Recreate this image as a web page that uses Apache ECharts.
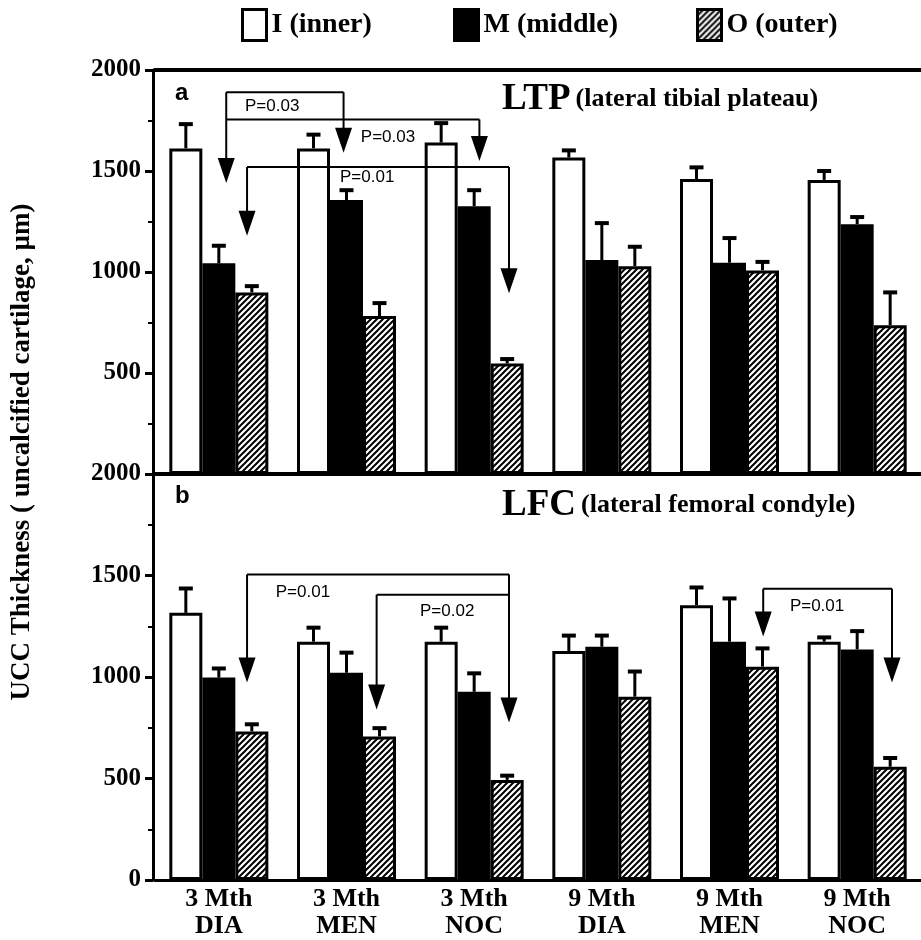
<!DOCTYPE html>
<html><head><meta charset="utf-8">
<script src="https://cdn.jsdelivr.net/npm/echarts@6/dist/echarts.min.js"></script>
<style>html,body{margin:0;padding:0;background:#fff}#c{width:921px;height:940px}</style>
</head><body><div id="c"></div>
<script>
// ---------- data ----------
const categories = ['3 Mth\nDIA', '3 Mth\nMEN', '3 Mth\nNOC', '9 Mth\nDIA', '9 Mth\nMEN', '9 Mth\nNOC'];
const seriesNames = ['I (inner)', 'M (middle)', 'O (outer)'];
const yMin = 0, yMax = 2000, yStep = 500;

// panel a: LTP (lateral tibial plateau)
const ltpInner = [1612, 1612, 1641, 1567, 1460, 1456];
const ltpInnerUpper = [1732, 1680, 1737, 1602, 1518, 1500];
const ltpMiddle = [1043, 1356, 1326, 1059, 1046, 1237];
const ltpMiddleUpper = [1130, 1405, 1405, 1242, 1168, 1272];
const ltpOuter = [899, 782, 547, 1029, 1008, 737];
const ltpOuterUpper = [930, 846, 569, 1125, 1050, 899];

// panel b: LFC (lateral femoral condyle)
const lfcInner = [1316, 1174, 1174, 1128, 1354, 1174];
const lfcInnerUpper = [1436, 1243, 1243, 1204, 1441, 1195];
const lfcMiddle = [997, 1021, 927, 1149, 1174, 1136];
const lfcMiddleUpper = [1042, 1120, 1018, 1204, 1387, 1226];
const lfcOuter = [732, 707, 493, 903, 1051, 558];
const lfcOuterUpper = [767, 748, 514, 1027, 1141, 601];

// significance brackets: x in category units, y in data units
const ltpBrackets = [
  {x1: 0.058, x2: 0.977, level: 1890, tip1: 1440, tip2: 1590, text: 'P=0.03', tx: 0.205, ty: 1822},
  {x1: 0.058, x2: 2.041, level: 1755, tip1: null, tip2: 1550, text: 'P=0.03', tx: 1.112, ty: 1668},
  {x1: 0.221, x2: 2.273, level: 1520, tip1: 1180, tip2: 895, text: 'P=0.01', tx: 0.949, ty: 1470}
];
const lfcBrackets = [
  {x1: 0.221, x2: 2.273, level: 1505, tip1: 973, tip2: 776, text: 'P=0.01', tx: 0.446, ty: 1415},
  {x1: 1.236, x2: 2.273, level: 1405, tip1: 840, tip2: null, text: 'P=0.02', tx: 1.576, ty: 1322},
  {x1: 4.264, x2: 5.273, level: 1435, tip1: 1200, tip2: 973, text: 'P=0.01', tx: 4.473, ty: 1346}
];

// ---------- styles ----------
const SERIF = '"Liberation Serif", "Times New Roman", serif';
const SANS = '"Liberation Sans", Arial, sans-serif';
const BAR_W = 33;

function hatchCanvas() {
  const n = 6, c = document.createElement('canvas');
  c.width = c.height = n;
  const g = c.getContext('2d');
  g.fillStyle = '#fff'; g.fillRect(0, 0, n, n);
  g.strokeStyle = '#000'; g.lineWidth = 2;
  g.beginPath();
  g.moveTo(0, n); g.lineTo(n, 0);
  g.moveTo(-1, 1); g.lineTo(1, -1);
  g.moveTo(n - 1, n + 1); g.lineTo(n + 1, n - 1);
  g.stroke();
  return c;
}
const hatch = {image: hatchCanvas(), repeat: 'repeat'};
const fills = ['#ffffff', '#000000', hatch];

function barSeries(name, idx, values, gi) {
  return {
    name: name, type: 'bar', xAxisIndex: gi === 0 ? 0 : 2, yAxisIndex: gi,
    data: values, barWidth: BAR_W, barGap: '0%',
    itemStyle: {color: fills[idx], borderColor: '#000', borderWidth: 3},
    emphasis: {disabled: true}, z: 2
  };
}

function errData(uppers, means) {
  const out = [];
  uppers.forEach((arr, s) => arr.forEach((u, g) => out.push([g, s, means[s][g], u])));
  return out;
}
function errRender(params, api) {
  const g = api.value(0), s = api.value(1);
  const lo = api.coord([g, api.value(2)]);
  const hi = api.coord([g, api.value(3)]);
  const x = lo[0] + (s - 1) * BAR_W;
  return {type: 'group', children: [
    {type: 'line', shape: {x1: x, y1: lo[1], x2: x, y2: hi[1]}, style: {stroke: '#000', lineWidth: 3}},
    {type: 'line', shape: {x1: x - 7, y1: hi[1], x2: x + 7, y2: hi[1]}, style: {stroke: '#000', lineWidth: 4}}
  ]};
}
function errSeries(gi, uppers, means) {
  return {
    type: 'custom', xAxisIndex: gi === 0 ? 0 : 2, yAxisIndex: gi, z: 3,
    data: errData(uppers, means), encode: {x: 0, y: [2, 3]},
    renderItem: errRender, silent: true
  };
}

function bracketSeries(gi, list) {
  return {
    type: 'custom', xAxisIndex: gi === 0 ? 0 : 2, yAxisIndex: gi, z: 5, silent: true,
    data: list.map((b, i) => [i, b.level]), encode: {x: 0, y: 1},
    clip: false,
    renderItem: function (params, api) {
      const b = list[api.value(0)];
      const origin = api.coord([0, 0]);
      const band = api.size([1, 0])[0];
      const px = c => origin[0] + c * band;
      const py = v => api.coord([0, v])[1];
      const x1 = px(b.x1), x2 = px(b.x2), yl = py(b.level);
      const ch = [];
      const ln = {stroke: '#000', lineWidth: 2};
      ch.push({type: 'line', shape: {x1: x1, y1: yl, x2: x2, y2: yl}, style: ln});
      [[x1, b.tip1], [x2, b.tip2]].forEach(([x, t]) => {
        if (t === null) return;
        const yt = py(t);
        ch.push({type: 'line', shape: {x1: x, y1: yl, x2: x, y2: yt - 20}, style: ln});
        ch.push({type: 'polygon', shape: {points: [[x - 8.5, yt - 25], [x + 8.5, yt - 25], [x, yt]]}, style: {fill: '#000'}});
      });
      ch.push({type: 'text', style: {text: b.text, x: px(b.tx), y: py(b.ty), fill: '#000',
        font: '17px ' + SANS, align: 'left', verticalAlign: 'middle'}});
      return {type: 'group', children: ch};
    }
  };
}

function yAxisCfg(gi, hideZero) {
  return {
    gridIndex: gi, type: 'value', min: yMin, max: yMax, interval: yStep, offset: 2,
    axisLine: {show: true, lineStyle: {color: '#000', width: 3}},
    axisTick: {show: true, length: 8, lineStyle: {color: '#000', width: 3}},
    minorTick: {show: true, splitNumber: 2, length: 5, lineStyle: {color: '#000', width: 2}},
    splitLine: {show: false}, minorSplitLine: {show: false},
    axisLabel: {
      color: '#000', fontFamily: SERIF, fontWeight: 'bold', fontSize: 25, margin: 12,
      formatter: v => (hideZero && v === 0) ? '' : String(v)
    }
  };
}
function xAxisCfg(gi, position, showLabels, lw) {
  return {
    gridIndex: gi, type: 'category', data: categories, position: position,
    axisLine: {show: true, lineStyle: {color: '#000', width: lw}},
    axisTick: {show: false}, splitLine: {show: false},
    axisLabel: showLabels ? {show: true, interval: 0, color: '#000', fontFamily: SERIF, fontWeight: 'bold',
      fontSize: 26, lineHeight: 27, margin: 6} : {show: false}
  };
}

const legendText = {color: '#000', fontFamily: SERIF, fontWeight: 'bold', fontSize: 28};
function legendCfg(name, left) {
  return {
    data: [{name: name, itemStyle: {borderColor: '#000', borderWidth: 3}}],
    left: left, top: 8, padding: 0, icon: 'rect', itemWidth: 24, itemHeight: 31,
    textStyle: legendText, selectedMode: false, itemGap: 6
  };
}

const titleRich = {
  b: {fontFamily: SERIF, fontWeight: 'bold', fontSize: 37, color: '#000'},
  s: {fontFamily: SERIF, fontWeight: 'bold', fontSize: 26, color: '#000'}
};

const chart = echarts.init(document.getElementById('c'), null, {renderer: 'canvas'});
chart.setOption({
  animation: false,
  backgroundColor: '#fff',
  legend: [legendCfg(seriesNames[0], 241), legendCfg(seriesNames[1], 453), legendCfg(seriesNames[2], 696)],
  title: [
    {text: 'a', left: 170, top: 76, textStyle: {fontFamily: SANS, fontWeight: 'bold', fontSize: 24, color: '#000'}},
    {text: 'b', left: 170, top: 479, textStyle: {fontFamily: SANS, fontWeight: 'bold', fontSize: 24, color: '#000'}},
    {text: '{b|LTP} {s|(lateral tibial plateau)}', left: 497, top: 76, textStyle: {rich: titleRich}},
    {text: '{b|LFC} {s|(lateral femoral condyle)}', left: 497, top: 482, textStyle: {rich: titleRich}}
  ],
  graphic: [{
    type: 'text', x: 22, y: 452, rotation: Math.PI / 2,
    style: {text: 'UCC Thickness ( uncalcified cartilage, µm)', font: 'bold 27px ' + SERIF,
      fill: '#000', align: 'center', verticalAlign: 'middle'}
  }],
  grid: [
    {left: 155, top: 70, width: 774.6, height: 404},
    {left: 155, top: 474, width: 774.6, height: 407}
  ],
  xAxis: [
    xAxisCfg(0, 'bottom', false, 4),
    xAxisCfg(0, 'top', false, 4),
    xAxisCfg(1, 'bottom', true, 3)
  ],
  yAxis: [yAxisCfg(0, true), yAxisCfg(1, false)],
  series: [
    barSeries(seriesNames[0], 0, ltpInner, 0),
    barSeries(seriesNames[1], 1, ltpMiddle, 0),
    barSeries(seriesNames[2], 2, ltpOuter, 0),
    errSeries(0, [ltpInnerUpper, ltpMiddleUpper, ltpOuterUpper], [ltpInner, ltpMiddle, ltpOuter]),
    bracketSeries(0, ltpBrackets),
    barSeries(seriesNames[0], 0, lfcInner, 1),
    barSeries(seriesNames[1], 1, lfcMiddle, 1),
    barSeries(seriesNames[2], 2, lfcOuter, 1),
    errSeries(1, [lfcInnerUpper, lfcMiddleUpper, lfcOuterUpper], [lfcInner, lfcMiddle, lfcOuter]),
    bracketSeries(1, lfcBrackets)
  ]
});
</script>
</body></html>
